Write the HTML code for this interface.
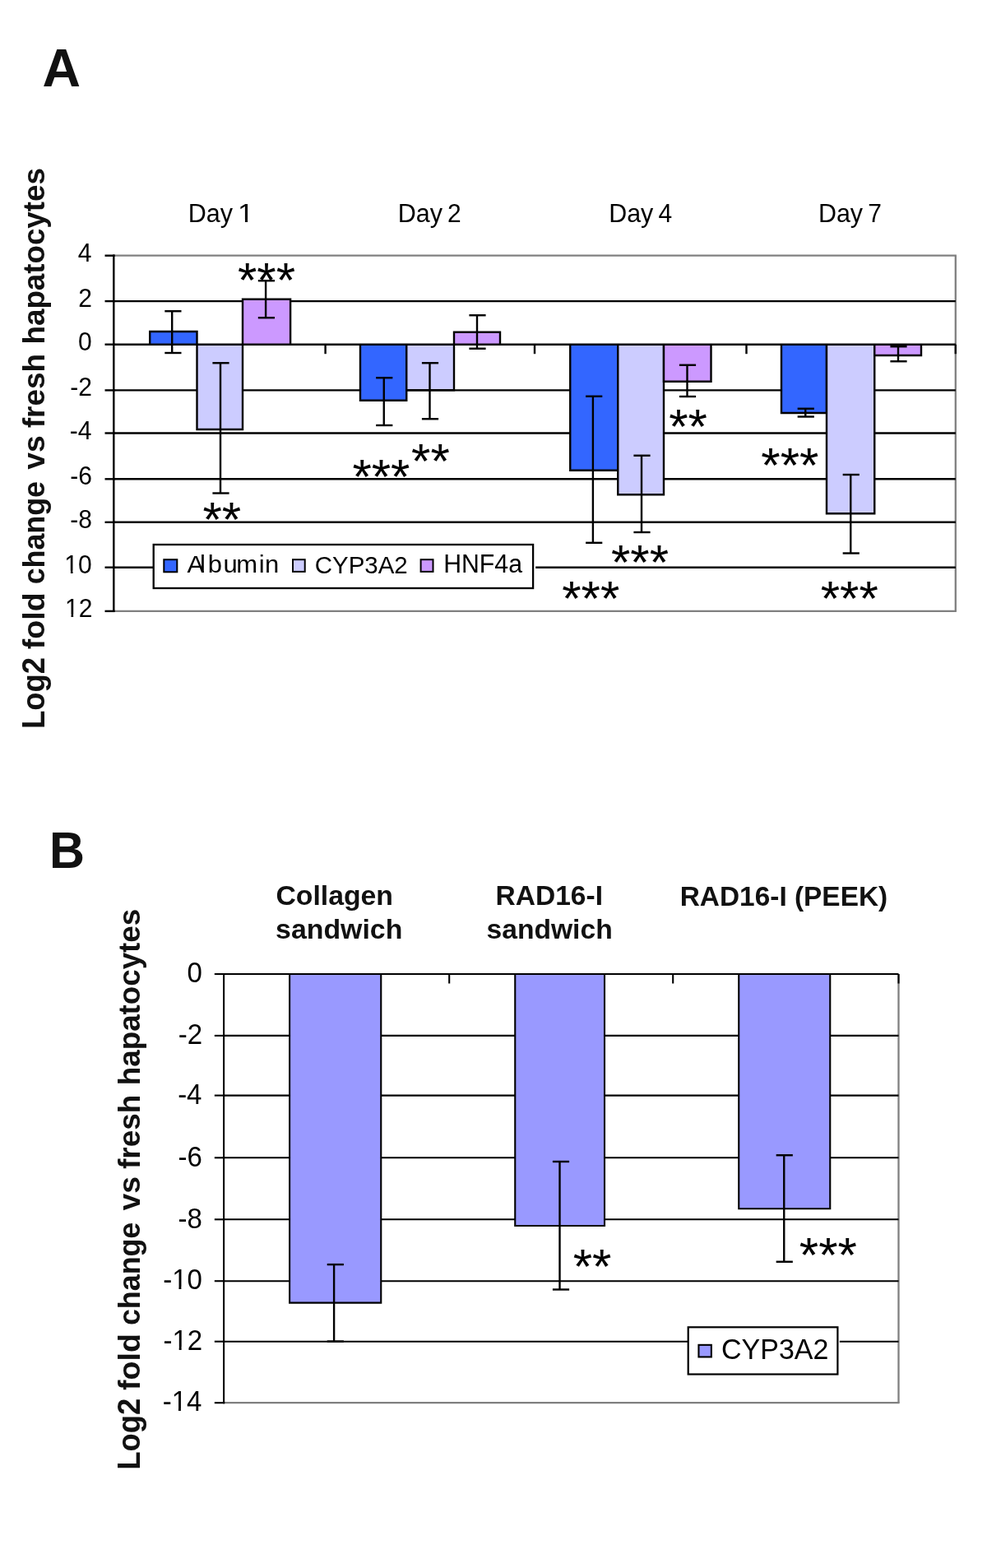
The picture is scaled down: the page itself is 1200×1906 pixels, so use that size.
<!DOCTYPE html>
<html><head><meta charset="utf-8"><title>Figure</title>
<style>html,body{margin:0;padding:0;background:#fff}svg{display:block;will-change:transform}text{fill:#000}</style></head><body>
<svg width="1200" height="1906" viewBox="0 0 1200 1906">
<rect width="1200" height="1906" fill="#fff"/>
<text transform="matrix(1.0733 0 0 1.0679 51.59 104.75)" font-family="Liberation Sans, sans-serif" font-size="60" font-weight="bold" style="fill:#111">A</text>
<text transform="matrix(0.9918 0 0 1.0497 60.03 1054.8)" font-family="Liberation Sans, sans-serif" font-size="60" font-weight="bold" style="fill:#111">B</text>
<line x1="138.3" y1="310.7" x2="1162.9" y2="310.7" stroke="#808080" stroke-width="2.3" stroke-linecap="butt"/>
<line x1="138.3" y1="742.9" x2="1162.9" y2="742.9" stroke="#808080" stroke-width="2.3" stroke-linecap="butt"/>
<line x1="1161.8" y1="310.7" x2="1161.8" y2="742.9" stroke="#808080" stroke-width="2.3" stroke-linecap="butt"/>
<line x1="138.3" y1="366.1" x2="1161.8" y2="366.1" stroke="#000" stroke-width="2.4" stroke-linecap="butt"/>
<line x1="138.3" y1="474.4" x2="1161.8" y2="474.4" stroke="#000" stroke-width="2.4" stroke-linecap="butt"/>
<line x1="138.3" y1="526.5" x2="1161.8" y2="526.5" stroke="#000" stroke-width="2.4" stroke-linecap="butt"/>
<line x1="138.3" y1="582.3" x2="1161.8" y2="582.3" stroke="#000" stroke-width="2.4" stroke-linecap="butt"/>
<line x1="138.3" y1="634.8" x2="1161.8" y2="634.8" stroke="#000" stroke-width="2.4" stroke-linecap="butt"/>
<line x1="138.3" y1="689.7" x2="1161.8" y2="689.7" stroke="#000" stroke-width="2.4" stroke-linecap="butt"/>
<line x1="127.5" y1="310.7" x2="139.5" y2="310.7" stroke="#000" stroke-width="2.4" stroke-linecap="butt"/>
<line x1="127.5" y1="366.1" x2="139.5" y2="366.1" stroke="#000" stroke-width="2.4" stroke-linecap="butt"/>
<line x1="127.5" y1="418.7" x2="139.5" y2="418.7" stroke="#000" stroke-width="2.4" stroke-linecap="butt"/>
<line x1="127.5" y1="474.4" x2="139.5" y2="474.4" stroke="#000" stroke-width="2.4" stroke-linecap="butt"/>
<line x1="127.5" y1="526.5" x2="139.5" y2="526.5" stroke="#000" stroke-width="2.4" stroke-linecap="butt"/>
<line x1="127.5" y1="582.3" x2="139.5" y2="582.3" stroke="#000" stroke-width="2.4" stroke-linecap="butt"/>
<line x1="127.5" y1="634.8" x2="139.5" y2="634.8" stroke="#000" stroke-width="2.4" stroke-linecap="butt"/>
<line x1="127.5" y1="689.7" x2="139.5" y2="689.7" stroke="#000" stroke-width="2.4" stroke-linecap="butt"/>
<line x1="127.5" y1="742.9" x2="139.5" y2="742.9" stroke="#000" stroke-width="2.4" stroke-linecap="butt"/>
<line x1="138.3" y1="309.5" x2="138.3" y2="744.1" stroke="#000" stroke-width="2.4" stroke-linecap="butt"/>
<line x1="395.6" y1="418.7" x2="395.6" y2="430.2" stroke="#000" stroke-width="2.4" stroke-linecap="butt"/>
<line x1="650" y1="418.7" x2="650" y2="430.2" stroke="#000" stroke-width="2.4" stroke-linecap="butt"/>
<line x1="907.5" y1="418.7" x2="907.5" y2="430.2" stroke="#000" stroke-width="2.4" stroke-linecap="butt"/>
<line x1="1161.8" y1="418.7" x2="1161.8" y2="430.2" stroke="#000" stroke-width="2.4" stroke-linecap="butt"/>
<text transform="matrix(1.0000 0 0 1.0534 78.95 749.9)" font-family="Liberation Sans, sans-serif" font-size="30">12</text>
<rect x="80.27" y="746.81" width="6.23" height="4.09" fill="#fff"/>
<rect x="89.15" y="746.81" width="6.06" height="4.09" fill="#fff"/>
<text transform="matrix(1.0000 0 0 1.0534 94.85 317.7)" font-family="Liberation Sans, sans-serif" font-size="30">4</text>
<text transform="matrix(1.0000 0 0 1.0534 95.35 373.1)" font-family="Liberation Sans, sans-serif" font-size="30">2</text>
<text transform="matrix(1.0000 0 0 1.0534 95.1 425.7)" font-family="Liberation Sans, sans-serif" font-size="30">0</text>
<text transform="matrix(1.0000 0 0 1.0534 85.35 481.4)" font-family="Liberation Sans, sans-serif" font-size="30">-2</text>
<text transform="matrix(1.0000 0 0 1.0534 84.85 533.5)" font-family="Liberation Sans, sans-serif" font-size="30">-4</text>
<text transform="matrix(1.0000 0 0 1.0534 85.35 589.3)" font-family="Liberation Sans, sans-serif" font-size="30">-6</text>
<text transform="matrix(1.0000 0 0 1.0534 85.35 641.8)" font-family="Liberation Sans, sans-serif" font-size="30">-8</text>
<text transform="matrix(1.0000 0 0 1.0534 78.35 696.7)" font-family="Liberation Sans, sans-serif" font-size="30">10</text>
<rect x="79.67" y="693.61" width="6.23" height="4.09" fill="#fff"/>
<rect x="88.55" y="693.61" width="6.06" height="4.09" fill="#fff"/>
<text transform="matrix(1.0177 0 0 1.0537 228.71 269.8)" font-family="Liberation Sans, sans-serif" font-size="30">Day</text>
<text transform="matrix(1.1800 0 0 1.0537 289.02 269.8)" font-family="Liberation Sans, sans-serif" font-size="30">1</text>
<rect x="290.58" y="266.71" width="7.35" height="4.09" fill="#fff"/>
<rect x="301.05" y="266.71" width="7.16" height="4.09" fill="#fff"/>
<text transform="matrix(1.0177 0 0 1.0537 483.71 269.8)" font-family="Liberation Sans, sans-serif" font-size="30">Day</text>
<text transform="matrix(1.0000 0 0 1.0537 544.12 269.8)" font-family="Liberation Sans, sans-serif" font-size="30">2</text>
<text transform="matrix(1.0148 0 0 1.0537 740.16 269.8)" font-family="Liberation Sans, sans-serif" font-size="30">Day</text>
<text transform="matrix(1.0000 0 0 1.0537 800.5 269.8)" font-family="Liberation Sans, sans-serif" font-size="30">4</text>
<text transform="matrix(1.0148 0 0 1.0537 994.96 269.8)" font-family="Liberation Sans, sans-serif" font-size="30">Day</text>
<text transform="matrix(1.0000 0 0 1.0537 1055.15 269.8)" font-family="Liberation Sans, sans-serif" font-size="30">7</text>
<path d="M182.2,418.7V403H239.5V418.7" fill="#3366FF" stroke="#000" stroke-width="2.4" stroke-linejoin="miter"/>
<path d="M239.5,418.7V522H295V418.7" fill="#CCCCFF" stroke="#000" stroke-width="2.4" stroke-linejoin="miter"/>
<path d="M295,418.7V363.75H353.1V418.7" fill="#CC99FF" stroke="#000" stroke-width="2.4" stroke-linejoin="miter"/>
<path d="M438,418.7V486.75H494.25V418.7" fill="#3366FF" stroke="#000" stroke-width="2.4" stroke-linejoin="miter"/>
<path d="M494.25,418.7V474.3H552V418.7" fill="#CCCCFF" stroke="#000" stroke-width="2.4" stroke-linejoin="miter"/>
<path d="M552,418.7V403.75H608V418.7" fill="#CC99FF" stroke="#000" stroke-width="2.4" stroke-linejoin="miter"/>
<path d="M693.25,418.7V571.75H751.25V418.7" fill="#3366FF" stroke="#000" stroke-width="2.4" stroke-linejoin="miter"/>
<path d="M751.25,418.7V601.25H807V418.7" fill="#CCCCFF" stroke="#000" stroke-width="2.4" stroke-linejoin="miter"/>
<path d="M807,418.7V463.75H864.5V418.7" fill="#CC99FF" stroke="#000" stroke-width="2.4" stroke-linejoin="miter"/>
<path d="M950,418.7V502H1005V418.7" fill="#3366FF" stroke="#000" stroke-width="2.4" stroke-linejoin="miter"/>
<path d="M1005,418.7V624.25H1063.25V418.7" fill="#CCCCFF" stroke="#000" stroke-width="2.4" stroke-linejoin="miter"/>
<path d="M1063.25,418.7V432H1120V418.7" fill="#CC99FF" stroke="#000" stroke-width="2.4" stroke-linejoin="miter"/>
<line x1="138.3" y1="418.7" x2="1161.8" y2="418.7" stroke="#000" stroke-width="2.4" stroke-linecap="butt"/>
<line x1="209.2" y1="378.25" x2="209.2" y2="429" stroke="#000" stroke-width="2.4" stroke-linecap="butt"/>
<line x1="200.3" y1="378.25" x2="220.5" y2="378.25" stroke="#000" stroke-width="2.4" stroke-linecap="butt"/>
<line x1="200.3" y1="429" x2="220.5" y2="429" stroke="#000" stroke-width="2.4" stroke-linecap="butt"/>
<line x1="268" y1="441.25" x2="268" y2="599.5" stroke="#000" stroke-width="2.4" stroke-linecap="butt"/>
<line x1="258.4" y1="441.25" x2="278.6" y2="441.25" stroke="#000" stroke-width="2.4" stroke-linecap="butt"/>
<line x1="258.4" y1="599.5" x2="278.6" y2="599.5" stroke="#000" stroke-width="2.4" stroke-linecap="butt"/>
<line x1="323.1" y1="341.25" x2="323.1" y2="386.25" stroke="#000" stroke-width="2.4" stroke-linecap="butt"/>
<line x1="313.8" y1="341.25" x2="334" y2="341.25" stroke="#000" stroke-width="2.4" stroke-linecap="butt"/>
<line x1="313.8" y1="386.25" x2="334" y2="386.25" stroke="#000" stroke-width="2.4" stroke-linecap="butt"/>
<line x1="466.75" y1="459.25" x2="466.75" y2="517" stroke="#000" stroke-width="2.4" stroke-linecap="butt"/>
<line x1="457.15" y1="459.25" x2="477.35" y2="459.25" stroke="#000" stroke-width="2.4" stroke-linecap="butt"/>
<line x1="457.15" y1="517" x2="477.35" y2="517" stroke="#000" stroke-width="2.4" stroke-linecap="butt"/>
<line x1="522.5" y1="441.25" x2="522.5" y2="509.25" stroke="#000" stroke-width="2.4" stroke-linecap="butt"/>
<line x1="512.9" y1="441.25" x2="533.1" y2="441.25" stroke="#000" stroke-width="2.4" stroke-linecap="butt"/>
<line x1="512.9" y1="509.25" x2="533.1" y2="509.25" stroke="#000" stroke-width="2.4" stroke-linecap="butt"/>
<line x1="580" y1="383.25" x2="580" y2="423.75" stroke="#000" stroke-width="2.4" stroke-linecap="butt"/>
<line x1="570.4" y1="383.25" x2="590.6" y2="383.25" stroke="#000" stroke-width="2.4" stroke-linecap="butt"/>
<line x1="570.4" y1="423.75" x2="590.6" y2="423.75" stroke="#000" stroke-width="2.4" stroke-linecap="butt"/>
<line x1="720.9" y1="481.75" x2="720.9" y2="659.8" stroke="#000" stroke-width="2.4" stroke-linecap="butt"/>
<line x1="712.1" y1="481.75" x2="732.3" y2="481.75" stroke="#000" stroke-width="2.4" stroke-linecap="butt"/>
<line x1="712.1" y1="659.8" x2="732.3" y2="659.8" stroke="#000" stroke-width="2.4" stroke-linecap="butt"/>
<line x1="780" y1="553.75" x2="780" y2="647" stroke="#000" stroke-width="2.4" stroke-linecap="butt"/>
<line x1="770.4" y1="553.75" x2="790.6" y2="553.75" stroke="#000" stroke-width="2.4" stroke-linecap="butt"/>
<line x1="770.4" y1="647" x2="790.6" y2="647" stroke="#000" stroke-width="2.4" stroke-linecap="butt"/>
<line x1="835.5" y1="443.75" x2="835.5" y2="482" stroke="#000" stroke-width="2.4" stroke-linecap="butt"/>
<line x1="825.9" y1="443.75" x2="846.1" y2="443.75" stroke="#000" stroke-width="2.4" stroke-linecap="butt"/>
<line x1="825.9" y1="482" x2="846.1" y2="482" stroke="#000" stroke-width="2.4" stroke-linecap="butt"/>
<line x1="979.25" y1="496.75" x2="979.25" y2="506.5" stroke="#000" stroke-width="2.4" stroke-linecap="butt"/>
<line x1="969.65" y1="496.75" x2="989.85" y2="496.75" stroke="#000" stroke-width="2.4" stroke-linecap="butt"/>
<line x1="969.65" y1="506.5" x2="989.85" y2="506.5" stroke="#000" stroke-width="2.4" stroke-linecap="butt"/>
<line x1="1034.25" y1="577" x2="1034.25" y2="672.5" stroke="#000" stroke-width="2.4" stroke-linecap="butt"/>
<line x1="1024.65" y1="577" x2="1044.85" y2="577" stroke="#000" stroke-width="2.4" stroke-linecap="butt"/>
<line x1="1024.65" y1="672.5" x2="1044.85" y2="672.5" stroke="#000" stroke-width="2.4" stroke-linecap="butt"/>
<line x1="1092" y1="421.25" x2="1092" y2="439.25" stroke="#000" stroke-width="2.4" stroke-linecap="butt"/>
<line x1="1082.4" y1="421.25" x2="1102.6" y2="421.25" stroke="#000" stroke-width="2.4" stroke-linecap="butt"/>
<line x1="1082.4" y1="439.25" x2="1102.6" y2="439.25" stroke="#000" stroke-width="2.4" stroke-linecap="butt"/>
<text x="324.05" y="360.8" font-family="Liberation Sans, sans-serif" font-size="60" text-anchor="middle">***</text>
<text x="269.8" y="651.75" font-family="Liberation Sans, sans-serif" font-size="60" text-anchor="middle">**</text>
<text x="463.43" y="600.17" font-family="Liberation Sans, sans-serif" font-size="60" text-anchor="middle">***</text>
<text x="523.43" y="580.75" font-family="Liberation Sans, sans-serif" font-size="60" text-anchor="middle">**</text>
<text x="836.5" y="538.95" font-family="Liberation Sans, sans-serif" font-size="60" text-anchor="middle">**</text>
<text x="778" y="703.55" font-family="Liberation Sans, sans-serif" font-size="60" text-anchor="middle">***</text>
<text x="718.25" y="748.45" font-family="Liberation Sans, sans-serif" font-size="60" text-anchor="middle">***</text>
<text x="960.38" y="585.75" font-family="Liberation Sans, sans-serif" font-size="60" text-anchor="middle">***</text>
<text x="1032.75" y="748.4" font-family="Liberation Sans, sans-serif" font-size="60" text-anchor="middle">***</text>
<rect x="186" y="686" width="465.2" height="8" fill="#fff"/>
<rect x="186.7" y="662" width="461.4" height="53" fill="#fff" stroke="#000" stroke-width="2.3"/>
<rect x="199.3" y="680.2" width="16" height="15.1" fill="#3366FF" stroke="#000" stroke-width="2"/>
<text transform="matrix(1.0330 0 0 0.9856 227.5 696.3)" font-family="Liberation Sans, sans-serif" font-size="30" dx="0 -5 2.9 1.35 -1.45 1.65 0.4">Albumin</text>
<rect x="356" y="680.2" width="14.7" height="14.7" fill="#CCCCFF" stroke="#000" stroke-width="2"/>
<text transform="matrix(0.9821 0 0 1.0143 382.73 696.5)" font-family="Liberation Sans, sans-serif" font-size="30">CYP3A2</text>
<rect x="511.6" y="680.2" width="14.9" height="14.7" fill="#CC99FF" stroke="#000" stroke-width="2"/>
<text transform="matrix(1.0086 0 0 1.0195 539.18 696.4)" font-family="Liberation Sans, sans-serif" font-size="30">HNF4a</text>
<text transform="translate(54,886.03) rotate(-90) scale(0.9719,1.0286)" font-family="Liberation Sans, sans-serif" font-size="37.5" font-weight="bold" style="fill:#111">Log2</text>
<text transform="translate(54,789.25) rotate(-90) scale(1.0031,0.9908)" font-family="Liberation Sans, sans-serif" font-size="37.5" font-weight="bold" style="fill:#111">fold</text>
<text transform="translate(54,710.33) rotate(-90) scale(0.9549,0.9908)" font-family="Liberation Sans, sans-serif" font-size="37.5" font-weight="bold" style="fill:#111">change</text>
<text transform="translate(54,570.75) rotate(-90) scale(0.9925,0.9908)" font-family="Liberation Sans, sans-serif" font-size="37.5" font-weight="bold" style="fill:#111">vs</text>
<text transform="translate(54,520.24) rotate(-90) scale(0.9859,0.9908)" font-family="Liberation Sans, sans-serif" font-size="37.5" font-weight="bold" style="fill:#111">fresh</text>
<text transform="translate(54,418.45) rotate(-90) scale(0.9793,0.9908)" font-family="Liberation Sans, sans-serif" font-size="37.5" font-weight="bold" style="fill:#111">hapatocytes</text>
<line x1="272.1" y1="1705.2" x2="1093.6" y2="1705.2" stroke="#808080" stroke-width="2.3" stroke-linecap="butt"/>
<line x1="1092.5" y1="1184" x2="1092.5" y2="1705.2" stroke="#808080" stroke-width="2.3" stroke-linecap="butt"/>
<line x1="272.1" y1="1258.9" x2="1092.5" y2="1258.9" stroke="#000" stroke-width="2.1" stroke-linecap="butt"/>
<line x1="272.1" y1="1331.6" x2="1092.5" y2="1331.6" stroke="#000" stroke-width="2.1" stroke-linecap="butt"/>
<line x1="272.1" y1="1407.3" x2="1092.5" y2="1407.3" stroke="#000" stroke-width="2.1" stroke-linecap="butt"/>
<line x1="272.1" y1="1482.3" x2="1092.5" y2="1482.3" stroke="#000" stroke-width="2.1" stroke-linecap="butt"/>
<line x1="272.1" y1="1557.2" x2="1092.5" y2="1557.2" stroke="#000" stroke-width="2.1" stroke-linecap="butt"/>
<line x1="272.1" y1="1630.7" x2="1092.5" y2="1630.7" stroke="#000" stroke-width="2.1" stroke-linecap="butt"/>
<line x1="260.8" y1="1184" x2="273.15" y2="1184" stroke="#000" stroke-width="2.1" stroke-linecap="butt"/>
<line x1="260.8" y1="1258.9" x2="273.15" y2="1258.9" stroke="#000" stroke-width="2.1" stroke-linecap="butt"/>
<line x1="260.8" y1="1331.6" x2="273.15" y2="1331.6" stroke="#000" stroke-width="2.1" stroke-linecap="butt"/>
<line x1="260.8" y1="1407.3" x2="273.15" y2="1407.3" stroke="#000" stroke-width="2.1" stroke-linecap="butt"/>
<line x1="260.8" y1="1482.3" x2="273.15" y2="1482.3" stroke="#000" stroke-width="2.1" stroke-linecap="butt"/>
<line x1="260.8" y1="1557.2" x2="273.15" y2="1557.2" stroke="#000" stroke-width="2.1" stroke-linecap="butt"/>
<line x1="260.8" y1="1630.7" x2="273.15" y2="1630.7" stroke="#000" stroke-width="2.1" stroke-linecap="butt"/>
<line x1="260.8" y1="1705.2" x2="273.15" y2="1705.2" stroke="#000" stroke-width="2.1" stroke-linecap="butt"/>
<line x1="272.1" y1="1182.95" x2="272.1" y2="1706.25" stroke="#000" stroke-width="2.1" stroke-linecap="butt"/>
<line x1="546.2" y1="1184" x2="546.2" y2="1195.5" stroke="#000" stroke-width="2.1" stroke-linecap="butt"/>
<line x1="818.2" y1="1184" x2="818.2" y2="1195.5" stroke="#000" stroke-width="2.1" stroke-linecap="butt"/>
<line x1="1092.5" y1="1184" x2="1092.5" y2="1195.5" stroke="#000" stroke-width="2.1" stroke-linecap="butt"/>
<text transform="matrix(0.9700 0 0 1.0340 197.7 1715.4)" font-family="Liberation Sans, sans-serif" font-size="34">-14</text>
<rect x="210.13" y="1711.97" width="6.84" height="4.43" fill="#fff"/>
<rect x="219.89" y="1711.97" width="6.67" height="4.43" fill="#fff"/>
<text transform="matrix(0.9700 0 0 1.0340 227.53 1194.2)" font-family="Liberation Sans, sans-serif" font-size="34">0</text>
<text transform="matrix(0.9700 0 0 1.0340 216.85 1269.1)" font-family="Liberation Sans, sans-serif" font-size="34">-2</text>
<text transform="matrix(0.9700 0 0 1.0340 216.13 1341.8)" font-family="Liberation Sans, sans-serif" font-size="34">-4</text>
<text transform="matrix(0.9700 0 0 1.0340 216.61 1417.5)" font-family="Liberation Sans, sans-serif" font-size="34">-6</text>
<text transform="matrix(0.9700 0 0 1.0340 216.61 1492.5)" font-family="Liberation Sans, sans-serif" font-size="34">-8</text>
<text transform="matrix(0.9700 0 0 1.0340 198.18 1567.4)" font-family="Liberation Sans, sans-serif" font-size="34">-10</text>
<rect x="210.61" y="1563.97" width="6.84" height="4.43" fill="#fff"/>
<rect x="220.37" y="1563.97" width="6.67" height="4.43" fill="#fff"/>
<text transform="matrix(0.9700 0 0 1.0340 198.43 1640.9)" font-family="Liberation Sans, sans-serif" font-size="34">-12</text>
<rect x="210.86" y="1637.47" width="6.84" height="4.43" fill="#fff"/>
<rect x="220.62" y="1637.47" width="6.67" height="4.43" fill="#fff"/>
<path d="M352.1,1184V1583.6H463.25V1184" fill="#9999FF" stroke="#000" stroke-width="2.1" stroke-linejoin="miter"/>
<path d="M626.25,1184V1490H735V1184" fill="#9999FF" stroke="#000" stroke-width="2.1" stroke-linejoin="miter"/>
<path d="M898.25,1184V1469.25H1009.25V1184" fill="#9999FF" stroke="#000" stroke-width="2.1" stroke-linejoin="miter"/>
<line x1="272.1" y1="1184" x2="1092.5" y2="1184" stroke="#000" stroke-width="2.1" stroke-linecap="butt"/>
<line x1="406.1" y1="1537.1" x2="406.1" y2="1630.5" stroke="#000" stroke-width="2.4" stroke-linecap="butt"/>
<line x1="397.7" y1="1537.1" x2="417.9" y2="1537.1" stroke="#000" stroke-width="2.4" stroke-linecap="butt"/>
<line x1="397.7" y1="1630.5" x2="417.9" y2="1630.5" stroke="#000" stroke-width="2.4" stroke-linecap="butt"/>
<line x1="680.5" y1="1412" x2="680.5" y2="1567.5" stroke="#000" stroke-width="2.4" stroke-linecap="butt"/>
<line x1="671.9" y1="1412" x2="692.1" y2="1412" stroke="#000" stroke-width="2.4" stroke-linecap="butt"/>
<line x1="671.9" y1="1567.5" x2="692.1" y2="1567.5" stroke="#000" stroke-width="2.4" stroke-linecap="butt"/>
<line x1="953.25" y1="1404.25" x2="953.25" y2="1533.75" stroke="#000" stroke-width="2.4" stroke-linecap="butt"/>
<line x1="943.65" y1="1404.25" x2="963.85" y2="1404.25" stroke="#000" stroke-width="2.4" stroke-linecap="butt"/>
<line x1="943.65" y1="1533.75" x2="963.85" y2="1533.75" stroke="#000" stroke-width="2.4" stroke-linecap="butt"/>
<text x="720.13" y="1559.5" font-family="Liberation Sans, sans-serif" font-size="60" text-anchor="middle">**</text>
<text x="1006.88" y="1545.88" font-family="Liberation Sans, sans-serif" font-size="60" text-anchor="middle">***</text>
<rect x="836" y="1627" width="184.8" height="8" fill="#fff"/>
<rect x="836.7" y="1613.3" width="181.7" height="57.2" fill="#fff" stroke="#000" stroke-width="2.2"/>
<rect x="849.45" y="1634.85" width="15.4" height="14.6" fill="#9999FF" stroke="#000" stroke-width="2.1"/>
<text transform="matrix(1.0000 0 0 1.0274 877.05 1651.9)" font-family="Liberation Sans, sans-serif" font-size="34">CYP3A2</text>
<text transform="matrix(1.0235 0 0 1.0000 335.42 1100.4)" font-family="Liberation Sans, sans-serif" font-size="33" font-weight="bold" style="fill:#111">Collagen</text>
<text transform="matrix(1.0259 0 0 1.0000 335.12 1140.8)" font-family="Liberation Sans, sans-serif" font-size="33" font-weight="bold" style="fill:#111">sandwich</text>
<text transform="matrix(1.0169 0 0 1.0304 602.51 1100.4)" font-family="Liberation Sans, sans-serif" font-size="33" font-weight="bold" style="fill:#111">RAD16-I</text>
<text transform="matrix(1.0190 0 0 1.0000 591.53 1140.8)" font-family="Liberation Sans, sans-serif" font-size="33" font-weight="bold" style="fill:#111">sandwich</text>
<text transform="matrix(1.0130 0 0 1.0261 826.72 1100.5)" font-family="Liberation Sans, sans-serif" font-size="33" font-weight="bold" style="fill:#111">RAD16-I (PEEK)</text>
<text transform="translate(170.1,1786.73) rotate(-90) scale(0.9719,1.0286)" font-family="Liberation Sans, sans-serif" font-size="37.5" font-weight="bold" style="fill:#111">Log2</text>
<text transform="translate(170.1,1689.95) rotate(-90) scale(1.0031,0.9908)" font-family="Liberation Sans, sans-serif" font-size="37.5" font-weight="bold" style="fill:#111">fold</text>
<text transform="translate(170.1,1611.03) rotate(-90) scale(0.9549,0.9908)" font-family="Liberation Sans, sans-serif" font-size="37.5" font-weight="bold" style="fill:#111">change</text>
<text transform="translate(170.1,1471.45) rotate(-90) scale(0.9925,0.9908)" font-family="Liberation Sans, sans-serif" font-size="37.5" font-weight="bold" style="fill:#111">vs</text>
<text transform="translate(170.1,1420.94) rotate(-90) scale(0.9859,0.9908)" font-family="Liberation Sans, sans-serif" font-size="37.5" font-weight="bold" style="fill:#111">fresh</text>
<text transform="translate(170.1,1319.15) rotate(-90) scale(0.9793,0.9908)" font-family="Liberation Sans, sans-serif" font-size="37.5" font-weight="bold" style="fill:#111">hapatocytes</text>
</svg></body></html>
